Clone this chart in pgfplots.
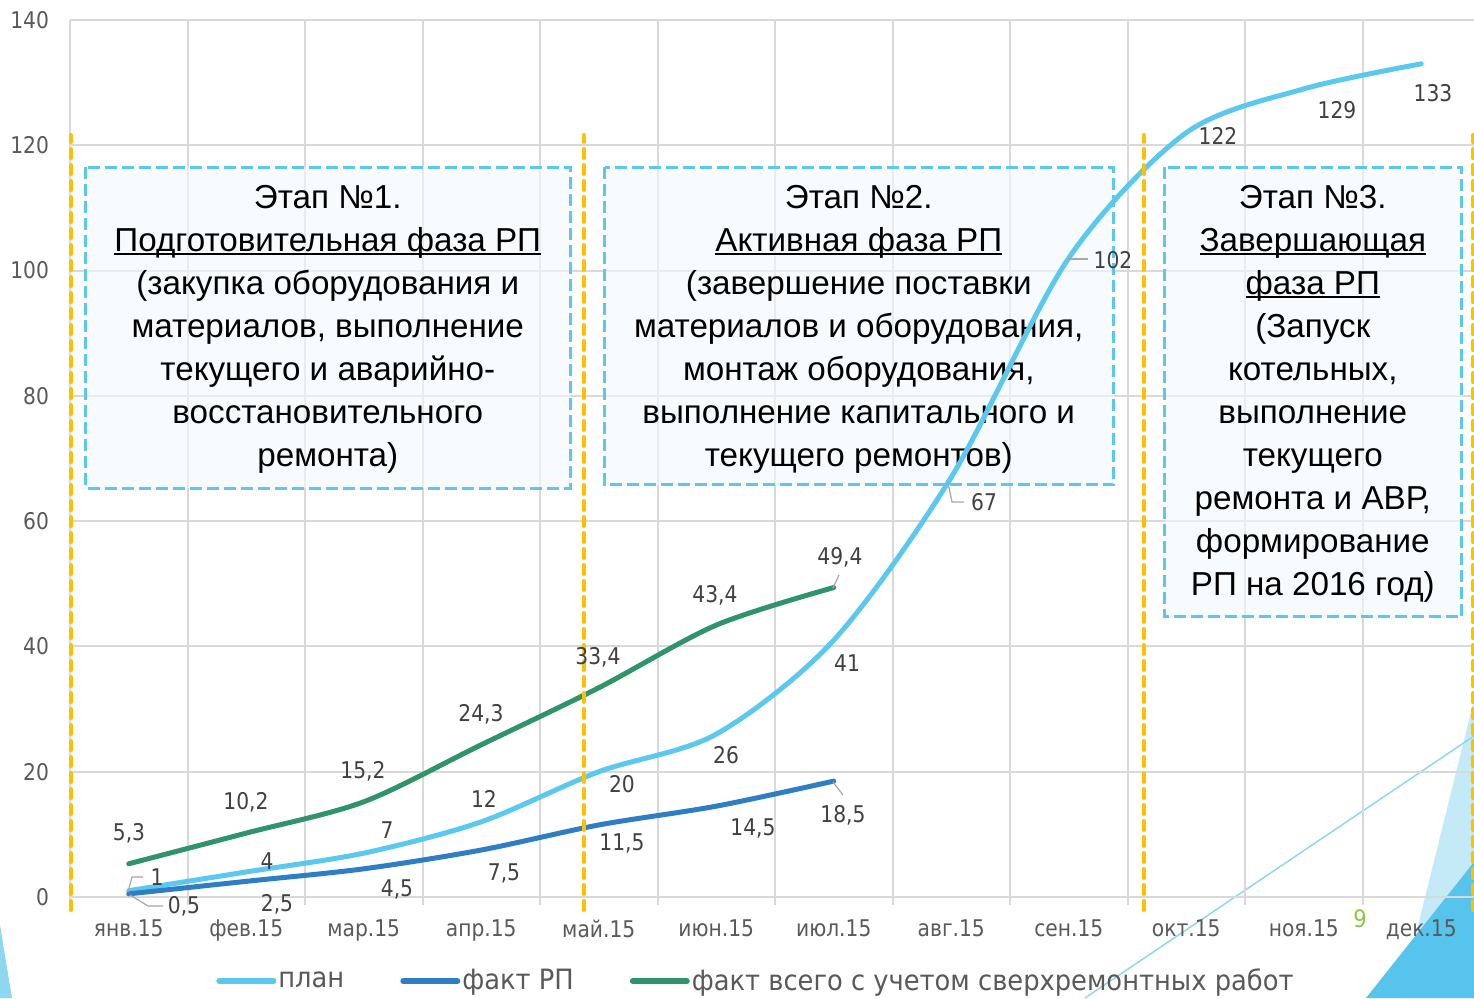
\documentclass[border=0pt]{standalone}
\usepackage{pgfplots}
\pgfplotsset{compat=1.18}
\usepackage{fontspec}
\setmainfont{DejaVu Sans}[FakeStretch=0.88]
\newfontfamily\legfont{DejaVu Sans}[FakeStretch=0.92]
\newfontfamily\boxfont{Liberation Sans}
\definecolor{planc}{HTML}{5BC8EF}
\definecolor{factc}{HTML}{2E7EC5}
\definecolor{totalc}{HTML}{2F9469}
\definecolor{orangec}{HTML}{FFC000}
\definecolor{boxc}{HTML}{5BC8EE}
\definecolor{boxfill}{HTML}{F3F9FC}
\definecolor{gridc}{HTML}{D9D9D9}
\definecolor{tickc}{HTML}{595959}
\definecolor{labc}{HTML}{404040}
\definecolor{leadc}{HTML}{A6A6A6}
\definecolor{decl}{HTML}{C5EAF7}
\definecolor{decd}{HTML}{56C4EC}
\definecolor{decm}{HTML}{8DD8F0}
\definecolor{greennine}{HTML}{8DC63F}
\newcommand\ul[1]{\setbox0\hbox{#1}\rlap{\rule[-1.7pt]{\wd0}{0.8pt}}\box0}
\begin{document}
\begin{tikzpicture}
\useasboundingbox (0,0) rectangle (737pt,499pt);
% slide decorations (background)
\begin{scope}[x=0.5pt,y=-0.5pt,shift={(0pt,499pt)}]
  \fill[decl] (1474,700) -- (1474,998) -- (1400,998) -- cycle;
  \fill[decd] (1474,862) -- (1474,998) -- (1366,998) -- cycle;
  \draw[decm, line width=0.75pt] (1085,998) -- (1474,736);
  \fill[decm] (0,925) -- (12,998) -- (0,998) -- cycle;
\end{scope}
\begin{axis}[
  at={(35pt,50.5pt)}, anchor=south west, scale only axis,
  width=705pt, height=438.5pt,
  xmin=-0.5, xmax=11.5, ymin=0, ymax=140, clip=false,
  axis line style={draw=none},
  xtick={0,...,11},
  xticklabels={янв.15,фев.15,мар.15,апр.15,май.15,июн.15,июл.15,авг.15,сен.15,окт.15,ноя.15,дек.15},
  minor xtick={-0.5,0.5,...,11.5},
  ytick={0,20,...,140},
  xmajorgrids=false, xminorgrids=true, ymajorgrids=true,
  grid style={color=gridc, line width=1pt},
  minor grid style={color=gridc, line width=1pt},
  tick align=outside, tick pos=left,
  major tick length=0pt, minor tick length=4pt,
  every minor tick/.append style={gridc, line width=1pt},
  /pgf/number format/assume math mode=true,
  ticklabel style={text=tickc, font=\fontsize{11.5pt}{13pt}\selectfont},
  yticklabel style={xshift=-7pt},
  xticklabel style={yshift=-8pt},
  legend style={at={(0.4865,-0.096)}, anchor=center, draw=none, fill=none,
    legend columns=-1, font=\legfont\fontsize{14pt}{16pt}\selectfont, text=tickc,
    /tikz/every even column/.append style={column sep=27pt},
    /tikz/every odd column/.append style={column sep=0pt},
    nodes={inner sep=1pt}},
  legend image code/.code={\draw[#1, line width=3pt, line cap=round] (0pt,0pt) -- (27pt,0pt);},
]
% stage boxes
\draw[boxc, line width=1.5pt, dash pattern=on 6pt off 2.5pt, fill=boxfill, fill opacity=0.6]
  (axis cs:-0.366,116.53) rectangle (axis cs:3.762,65.29);
\draw[boxc, line width=1.5pt, dash pattern=on 6pt off 2.5pt, fill=boxfill, fill opacity=0.6]
  (axis cs:4.051,116.53) rectangle (axis cs:8.383,65.77);
\draw[boxc, line width=1.5pt, dash pattern=on 6pt off 2.5pt, fill=boxfill, fill opacity=0.6]
  (axis cs:8.817,116.53) rectangle (axis cs:11.345,44.70);
\node[anchor=north, align=center, inner sep=0pt, font=\boxfont\fontsize{16.6pt}{21.5pt}\selectfont]
  at (axis cs:1.694,113.66) {Этап №1.\\\ul{Подготовительная фаза РП}\\(закупка оборудования и\\материалов, выполнение\\текущего и аварийно-\\восстановительного\\ремонта)};
\node[anchor=north, align=center, inner sep=0pt, font=\boxfont\fontsize{16.6pt}{21.5pt}\selectfont]
  at (axis cs:6.213,113.66) {Этап №2.\\\ul{Активная фаза РП}\\(завершение поставки\\материалов и оборудования,\\монтаж оборудования,\\выполнение капитального и\\текущего ремонтов)};
\node[anchor=north, align=center, inner sep=0pt, font=\boxfont\fontsize{16.6pt}{21.5pt}\selectfont]
  at (axis cs:10.077,113.66) {Этап №3.\\\ul{Завершающая}\\\ul{фаза РП}\\(Запуск\\котельных,\\выполнение\\текущего\\ремонта и АВР,\\формирование\\РП на 2016 год)};
% data
\addplot[planc, line width=2.5pt, smooth, line cap=round] coordinates {
  (0,1) (1,4) (2,7) (3,12) (4,20) (5,26) (6,41) (7,67) (8,102) (9,122) (10,129) (11,133)};
\addlegendentry{план}
\addplot[factc, line width=2.5pt, smooth, line cap=round] coordinates {
  (0,0.5) (1,2.5) (2,4.5) (3,7.5) (4,11.5) (5,14.5) (6,18.5)};
\addlegendentry{факт РП}
\addplot[totalc, line width=2.5pt, smooth, line cap=round] coordinates {
  (0,5.3) (1,10.2) (2,15.2) (3,24.3) (4,33.4) (5,43.4) (6,49.4)};
\addlegendentry{факт всего с учетом сверхремонтных работ}
% stage separators
\draw[orangec, line width=2pt, dash pattern=on 4.5pt off 3.5pt, line cap=round] (axis cs:-0.494,-2.08) -- (axis cs:-0.494,121.64);
\draw[orangec, line width=2pt, dash pattern=on 4.5pt off 3.5pt, line cap=round] (axis cs:3.872,-2.08) -- (axis cs:3.872,121.64);
\draw[orangec, line width=2pt, dash pattern=on 4.5pt off 3.5pt, line cap=round] (axis cs:8.638,-2.08) -- (axis cs:8.638,121.64);
\draw[orangec, line width=2pt, dash pattern=on 4.5pt off 3.5pt, line cap=round] (axis cs:11.44,-2.08) -- (axis cs:11.44,121.64);
\end{axis}
% data labels
\begin{scope}[x=0.5pt,y=-0.5pt,shift={(0pt,499pt)},
  lbl/.style={text=labc, font=\fontsize{11.5pt}{13pt}\selectfont, inner sep=0pt}]
  \draw[leadc, line width=0.6pt] (128,892) -- (132,877) -- (143,877);
  \draw[leadc, line width=0.6pt] (130,895) -- (148,906) -- (163,906);
  \draw[leadc, line width=0.6pt] (948,483) -- (952,502) -- (964,502);
  \draw[leadc, line width=0.6pt] (1068,259) -- (1088,259);
  \draw[leadc, line width=0.6pt] (833,588) -- (839,575);
  \draw[leadc, line width=0.6pt] (833,782) -- (843,795);
  % plan
  \node[lbl] at (157,877) {1};
  \node[lbl] at (267,861) {4};
  \node[lbl] at (387,830) {7};
  \node[lbl] at (484,799) {12};
  \node[lbl] at (622,784) {20};
  \node[lbl] at (726,755) {26};
  \node[lbl] at (847,663) {41};
  \node[lbl] at (984,502) {67};
  \node[lbl] at (1113,260) {102};
  \node[lbl] at (1218,136) {122};
  \node[lbl] at (1337,110) {129};
  \node[lbl] at (1433,93) {133};
  % fact RP
  \node[lbl] at (184,906) {0,5};
  \node[lbl] at (277,904) {2,5};
  \node[lbl] at (397,889) {4,5};
  \node[lbl] at (504,873) {7,5};
  \node[lbl] at (622,843) {11,5};
  \node[lbl] at (753,828) {14,5};
  \node[lbl] at (843,815) {18,5};
  % fact total
  \node[lbl] at (129,833) {5,3};
  \node[lbl] at (246,802) {10,2};
  \node[lbl] at (363,771) {15,2};
  \node[lbl] at (481,714) {24,3};
  \node[lbl] at (598,657) {33,4};
  \node[lbl] at (715,595) {43,4};
  \node[lbl] at (840,557) {49,4};
  % slide number
  \node[text=greennine, font=\fontsize{12pt}{14pt}\selectfont, inner sep=0pt] at (1360,919) {9};
\end{scope}
\end{tikzpicture}
\end{document}
